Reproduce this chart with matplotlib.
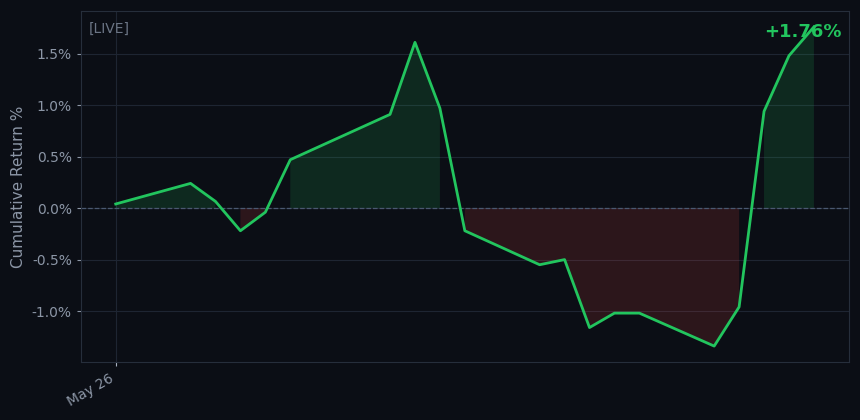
import matplotlib
matplotlib.use("Agg")
import matplotlib.pyplot as plt
import numpy as np

# Data
day_offsets = [0, 3, 4, 5, 6, 7, 11, 12, 13, 14, 17, 18, 19, 20, 21, 24, 25, 26, 27, 28]
cum_return = [0.04, 0.24, 0.065, -0.22, -0.04, 0.47, 0.91, 1.61, 0.97, -0.22,
              -0.55, -0.50, -1.16, -1.02, -1.02, -1.34, -0.96, 0.94, 1.48, 1.76]
tick_positions = [0]
tick_labels = ["May 26"]
ytick_values = [-1.0, -0.5, 0.0, 0.5, 1.0, 1.5]
badge_text = "[LIVE]"
final_text = "+1.76%"

BG = "#0b0e15"
GRID = "#1e2532"
SPINE = "#262e3b"
TXT = "#8c96a6"
GREEN = "#22c55e"
RED = "#ef4444"

x = np.array(day_offsets, dtype=float)
y = np.array(cum_return, dtype=float)

fig = plt.figure(figsize=(8.6, 4.2), dpi=100, facecolor=BG)
ax = fig.add_axes([0.094, 0.138, 0.893, 0.836])
ax.set_facecolor(BG)

ax.fill_between(x, y, 0, where=y >= 0, color=GREEN, alpha=0.15, linewidth=0)
ax.fill_between(x, y, 0, where=y < 0, color=RED, alpha=0.15, linewidth=0)
ax.axhline(0, color="#4a5870", linestyle="--", linewidth=0.9, zorder=1.5)
ax.plot(x, y, color=GREEN, linewidth=2.0, zorder=3)

ax.margins(x=0.05, y=0.05)
ax.set_xticks(tick_positions)
ax.set_xticklabels(tick_labels, rotation=30, ha="right")
ax.set_yticks(ytick_values)
ax.set_yticklabels([f"{v:.1f}%" for v in ytick_values])

ax.grid(True, color=GRID, linewidth=0.8)
ax.set_axisbelow(True)
for s in ax.spines.values():
    s.set_color(SPINE)
    s.set_linewidth(0.8)
ax.tick_params(colors=TXT, labelsize=10, length=3, width=0.8)
ax.tick_params(axis="x", colors="#a8b2c2", labelcolor=TXT)
ax.set_ylabel("Cumulative Return %", color=TXT, fontsize=11)

ax.text(0.01, 0.97, badge_text, transform=ax.transAxes, color="#6b7585",
        fontsize=10, va="top", ha="left")
ax.text(0.99, 0.965, final_text, transform=ax.transAxes, color=GREEN,
        fontsize=13, fontweight="bold", va="top", ha="right")

fig.savefig("out.png", dpi=100, facecolor=BG)
